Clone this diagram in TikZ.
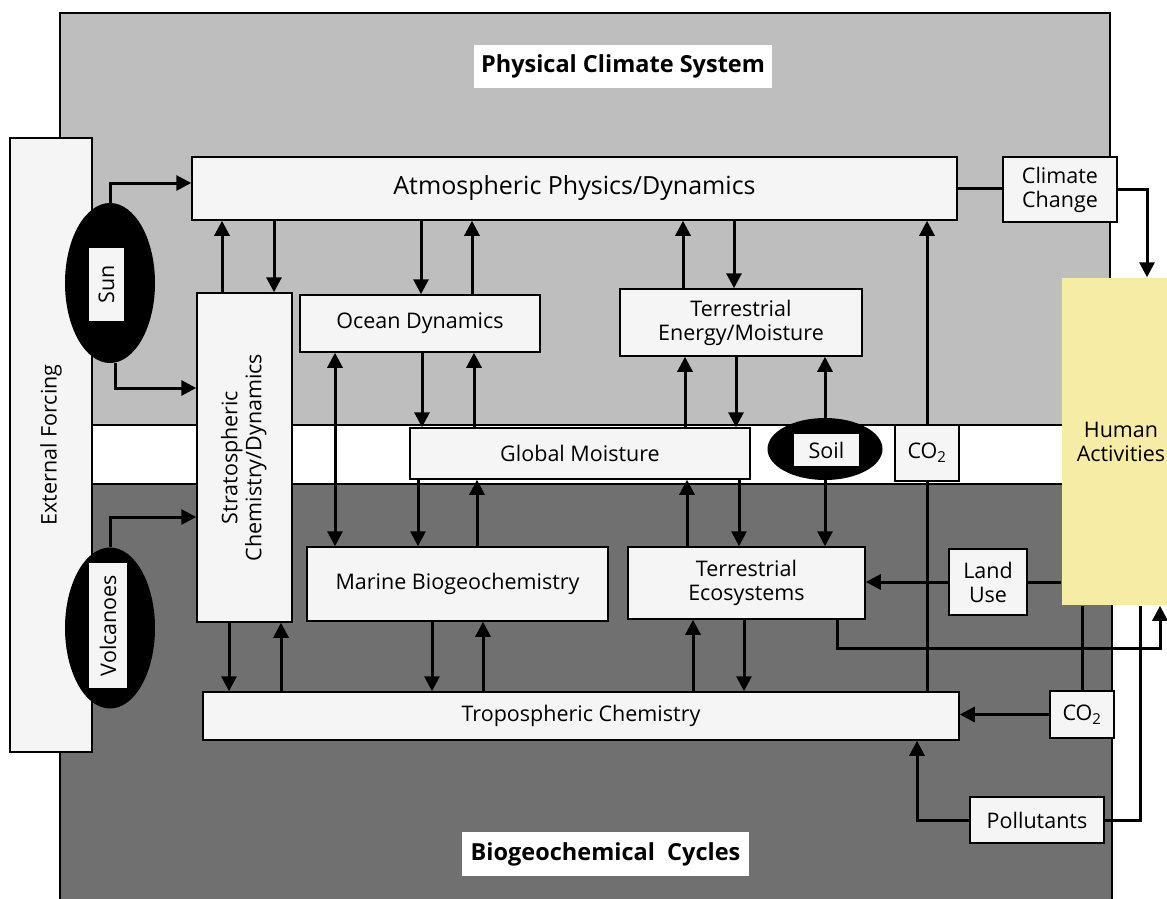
\documentclass[tikz,border=0pt]{standalone}
\usepackage{fontspec}
\usepackage{graphicx}
\setmainfont{Open Sans}
\usetikzlibrary{arrows.meta,shapes.geometric}
\definecolor{uppergray}{RGB}{190,190,190}
\definecolor{lowergray}{RGB}{112,112,112}
\definecolor{boxfill}{RGB}{245,245,245}
\definecolor{humfill}{RGB}{246,236,166}

\begin{document}
\begin{tikzpicture}[x=1pt,y=-1pt,
  box/.style={draw,line width=1.5pt,fill=boxfill,inner sep=0pt,align=center,font=\fontsize{21.5}{24}\selectfont},
  blob/.style={ellipse,fill=black,inner sep=0pt},
  heading/.style={fill=white,inner sep=0pt,font=\bfseries\fontsize{23.5}{27}\selectfont},
  arr/.style={line width=3pt,-{Triangle[length=15pt,width=15pt]}},
  twoway/.style={line width=3pt,{Triangle[length=15pt,width=15pt]}-{Triangle[length=15pt,width=15pt]}},
  link/.style={line width=3pt}]
  \clip (0,0) rectangle (1167,899);
  \fill[white] (0,0) rectangle (1167,899);
  % the three bands
  \draw[line width=1.2pt,fill=uppergray] (60,13) rectangle (1110,425);
  \draw[line width=1.2pt,fill=white] (60,425) rectangle (1110,484);
  \draw[line width=1.2pt,fill=lowergray] (60,484) rectangle (1112,905);
  \node[heading,minimum width=298pt,minimum height=43pt] (phys) at (623,66.5) {Physical Climate System};
  \node[heading,minimum width=287pt,minimum height=44pt] (bio) at (605.5,854) {Biogeochemical\ \ Cycles};

  % forcing
  \node[box,rotate=90,minimum width=614pt,minimum height=82pt] (ext) at (51,445) {External Forcing};
  \node[blob,minimum width=90pt,minimum height=160pt] (sunE) at (110,283) {};
  \node[box,rotate=90,minimum width=75pt,minimum height=37pt] (sun) at (106.5,284.5) {Sun};
  \node[blob,minimum width=90pt,minimum height=161pt] (volcE) at (110,628) {};
  \node[box,rotate=90,minimum width=127pt,minimum height=40pt] (volc) at (108,625.5) {Volcanoes};

  % components
  \node[box,minimum width=765pt,minimum height=63pt,font=\fontsize{25}{28}\selectfont] (atm) at (574.5,188.5) {Atmospheric Physics/Dynamics};
  \node[box,minimum width=114pt,minimum height=65pt] (clim) at (1060,189.5) {Climate\\Change};
  \node[box,minimum width=95pt,minimum height=329pt] (strat) at (244.5,457.5)
    {\rotatebox{90}{\begin{tabular}{@{}c@{}}Stratospheric\\Chemistry/Dynamics\end{tabular}}};
  \node[box,minimum width=240pt,minimum height=57pt] (ocn) at (420,323.5) {Ocean Dynamics};
  \node[box,minimum width=242pt,minimum height=67pt] (tem) at (741,322.5) {Terrestrial\\Energy/Moisture};
  \node[box,minimum width=340pt,minimum height=51pt] (gm) at (580,453.5) {Global Moisture};
  \node[blob,minimum width=115pt,minimum height=62pt] (soilE) at (825,449) {};
  \node[box,minimum width=67pt,minimum height=34pt] (soil) at (826.5,450) {Soil};
  \node[box,minimum width=64pt,minimum height=56pt] (co2a) at (927,453) {CO\textsubscript{2}};
  \node[box,minimum width=301pt,minimum height=74pt] (mar) at (457.5,584) {Marine Biogeochemistry};
  \node[box,minimum width=237pt,minimum height=72pt] (te) at (746.5,583) {Terrestrial\\Ecosystems};
  \node[box,minimum width=78pt,minimum height=66pt] (land) at (988,582) {Land\\Use};
  \node[box,minimum width=756pt,minimum height=48pt] (trop) at (581,716) {Tropospheric Chemistry};
  \node[box,minimum width=64pt,minimum height=47pt] (co2b) at (1082,714.5) {CO\textsubscript{2}};
  \node[box,minimum width=134pt,minimum height=46pt] (poll) at (1037,820) {Pollutants};
  \node[box,draw=none,fill=humfill,minimum width=118pt,minimum height=327pt] (hum) at (1121,441.5) {Human\\Activities};

  % forcing arrows
  \draw[arr] (sunE.north) |- (atm.west |- 0,183);
  \draw[arr] (sunE.south -| 115,0) |- (strat.west |- 0,388);
  \draw[arr] (volcE.north) |- (strat.west |- 0,517);

  % upper exchanges
  \draw[arr] (strat.north -| 222,0) -- (atm.south -| 222,0);
  \draw[arr] (atm.south -| 274,0) -- (strat.north -| 274,0);
  \draw[arr] (atm.south -| 421,0) -- (ocn.north -| 421,0);
  \draw[arr] (ocn.north -| 472,0) -- (atm.south -| 472,0);
  \draw[arr] (tem.north -| 683,0) -- (atm.south -| 683,0);
  \draw[arr] (atm.south -| 734,0) -- (tem.north -| 734,0);
  \draw[arr] (ocn.south -| 422,0) -- (gm.north -| 422,0);
  \draw[arr] (gm.north -| 474,0) -- (ocn.south -| 474,0);
  \draw[arr] (gm.north -| 685,0) -- (tem.south -| 685,0);
  \draw[arr] (tem.south -| 736,0) -- (gm.north -| 736,0);
  \draw[twoway] (ocn.south -| 335,0) -- (mar.north -| 335,0);
  \draw[arr] (soilE.north) -- (soilE.north |- tem.south);
  \draw[arr] (co2a.north) -- (co2a.north |- atm.south);
  \draw[link] (atm.east) -- (atm.east -| clim.west);
  \draw[arr] (clim.east) -| (hum.north -| 1147,0);

  % lower exchanges
  \draw[arr] (gm.south -| 418,0) -- (mar.north -| 418,0);
  \draw[arr] (mar.north -| 477,0) -- (gm.south -| 477,0);
  \draw[arr] (te.north -| 687,0) -- (gm.south -| 687,0);
  \draw[arr] (gm.south -| 739,0) -- (te.north -| 739,0);
  \draw[arr] (soilE.south) -- (soilE.south |- te.north);
  \draw[arr] (strat.south -| 229,0) -- (trop.north -| 229,0);
  \draw[arr] (trop.north -| 281,0) -- (strat.south -| 281,0);
  \draw[arr] (mar.south -| 432,0) -- (trop.north -| 432,0);
  \draw[arr] (trop.north -| 483,0) -- (mar.south -| 483,0);
  \draw[arr] (trop.north -| 693,0) -- (te.south -| 693,0);
  \draw[arr] (te.south -| 744,0) -- (trop.north -| 744,0);
  \draw[link] (trop.north -| co2a.south) -- (co2a.south);

  % human activities
  \draw[link] (hum.west |- land.east) -- (land.east);
  \draw[arr] (land.west) -- (land.west -| te.east);
  \draw[arr] (te.south -| 837,0) -- ++(0,29) -| (hum.south -| 1160,0);
  \draw[link] (hum.south -| co2b.north) -- (co2b.north);
  \draw[arr] (co2b.west) -- (co2b.west -| trop.east);
  \draw[arr] (poll.west) -| (trop.south -| 917,0);
  \draw[link] (poll.east) -| (hum.south -| 1140,0);
\end{tikzpicture}
\end{document}
